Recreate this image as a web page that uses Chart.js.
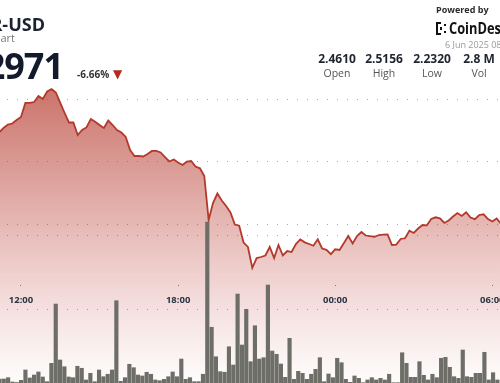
<!DOCTYPE html>
<html>
<head>
<meta charset="utf-8">
<script src="https://cdn.jsdelivr.net/npm/chart.js@4.4.1/dist/chart.umd.min.js"></script>
<style>
  html, body { margin:0; padding:0; background:#fff; width:500px; height:383px; overflow:hidden; }
  #wrap { position:relative; width:500px; height:383px; overflow:hidden; font-family:'Open Sans', sans-serif; }
  canvas { position:absolute; left:0; top:0; }
  .t { position:absolute; white-space:nowrap; }
  .stat { position:absolute; width:60px; text-align:center; white-space:nowrap; }
</style>
</head>
<body>
<div id="wrap">
  <canvas id="c" width="500" height="383"></canvas>
  <div class="t" id="pair" data-right="45" style="top:15px; font-size:18px; line-height:18px; font-weight:700; color:#1b2230;"></div>
  <div class="t" id="sub" data-right="15" style="top:32px; font-size:11px; line-height:11px; color:#777;"></div>
  <div class="t" id="last" data-right="63" style="top:48px; font-size:36px; line-height:36px; font-weight:700; color:#121a2b; letter-spacing:-1px;"></div>
  <div class="t" id="chg" style="left:77px; top:69px; font-size:10px; line-height:10px; font-weight:700; color:#333;"></div>
  <div class="t" id="arrow" style="left:113px; top:68px; font-size:12px; line-height:12px; color:#b22a1d; font-family:'DejaVu Sans';">▼</div>
  <div class="t" id="powered" style="left:436px; top:4.5px; font-size:9px; line-height:9px; font-weight:700; color:#2b2b2b;"></div>
  <svg class="t" style="left:436px; top:22px;" width="11" height="13" viewBox="0 0 11 13">
    <rect x="0" y="0" width="2" height="13" fill="#111"/>
    <rect x="0" y="0" width="5" height="2" fill="#111"/>
    <rect x="0" y="11" width="5" height="2" fill="#111"/>
    <rect x="4" y="5" width="2" height="3" fill="#111"/>
    <rect x="8" y="2" width="2" height="2" fill="#111"/>
    <rect x="8" y="9" width="2" height="2" fill="#111"/>
  </svg>
  <div class="t" id="logo" style="left:449px; top:19.5px; font-size:16px; line-height:16px; font-weight:700; color:#111; transform:scaleX(0.8); transform-origin:left top;"></div>
  <div class="t" id="date" style="left:445px; top:40px; font-size:9px; line-height:9px; color:#9a9a9a;"></div>
  <div id="stats"></div>
</div>
<script>
// ---- header text ----
const pairName = 'NEAR-USD';
const chartSubtitle = '1 Day Chart';
const lastPrice = '2.2971';
const changeText = '-6.66%';
const poweredText = 'Powered by';
const logoText = 'CoinDesk';
const dateText = '6 Jun 2025 08:10 UTC';
const statValues = ['2.4610', '2.5156', '2.2320', '2.8 M'];
const statLabels = ['Open', 'High', 'Low', 'Vol'];

// ---- time axis (minutes after 12:00, 10-minute steps) ----
const lineStartMinute = -50;
const stepMinutes = 10;
const timeTickMinutes = [0, 360, 720, 1080];
const timeTickLabels = ['12:00', '18:00', '00:00', '06:00'];

// ---- price series (USD) ----
const prices = [
  2.4468, 2.4540, 2.4595, 2.4611, 2.4667, 2.4714, 2.4937, 2.4937, 2.4952, 2.5048,
  2.5000, 2.5119, 2.5156, 2.5103, 2.4937, 2.4778, 2.4627, 2.4627, 2.4429, 2.4508,
  2.4548, 2.4683, 2.4640, 2.4587, 2.4540, 2.4659, 2.4587, 2.4508, 2.4468, 2.4397,
  2.4190, 2.4095, 2.4095, 2.4087, 2.4127, 2.4175, 2.4175, 2.4151, 2.4079, 2.4008,
  2.4040, 2.3992, 2.3952, 2.4005, 2.4016, 2.3929, 2.3900, 2.3778, 2.3079, 2.3349,
  2.3500, 2.3389, 2.3302, 2.3198, 2.3008, 2.2989, 2.2722, 2.2651, 2.2320, 2.2476,
  2.2492, 2.2516, 2.2651, 2.2476, 2.2683, 2.2516, 2.2587, 2.2571, 2.2698, 2.2770,
  2.2725, 2.2698, 2.2671, 2.2773, 2.2627, 2.2606, 2.2537, 2.2614, 2.2603, 2.2714,
  2.2825, 2.2706, 2.2825, 2.2889, 2.2833, 2.2822, 2.2814, 2.2841, 2.2848, 2.2852,
  2.2683, 2.2690, 2.2778, 2.2789, 2.2908, 2.2873, 2.2944, 2.3000, 2.2995, 2.3095,
  2.3122, 2.3106, 2.3032, 2.3071, 2.3135, 2.3190, 2.3143, 2.3202, 2.3119, 2.3092,
  2.3159, 2.3170, 2.3095, 2.3056, 2.3103, 2.3016, 2.2971
];

// ---- volume series (per bar) ----
const volumes = [
  5400, 5400, 7200, 1400, 700, 3600, 17600, 6800, 10800, 14900,
  8100, 1800, 26600, 106700, 31100, 22000, 8100, 7200, 22600, 19900,
  4100, 13100, 1800, 17600, 8500, 11800, 17600, 111200, 2300, 7200,
  25300, 20700, 10800, 9500, 14500, 11800, 4100, 3100, 5000, 8500,
  14900, 8500, 32400, 5000, 7200, 1800, 1800, 11800, 217500, 75300,
  35500, 15300, 14500, 49000, 24300, 120200, 51300, 99600, 28800, 77400,
  32400, 34200, 132400, 43200, 38800, 25700, 7700, 60400, 5000, 15800,
  13100, 5000, 11800, 18500, 34200, 1800, 12200, 7200, 33400, 27400,
  5000, 900, 9500, 6300, 400, 4100, 7200, 4100, 6300, 4100,
  11800, 400, 400, 40900, 26600, 7700, 7700, 28800, 10400, 4100,
  11800, 7200, 33400, 34700, 21200, 8500, 6300, 44600, 8500, 7700,
  13100, 13100, 41500, 4100, 13900, 4100
];

// ---- grid values ----
const priceGridValues = [2.3, 2.4, 2.5];
const volumeGridValues = [100000, 200000];

// header fill
document.getElementById('pair').textContent = pairName;
document.getElementById('sub').textContent = chartSubtitle;
document.getElementById('last').textContent = lastPrice;
document.getElementById('chg').textContent = changeText;
document.getElementById('powered').textContent = poweredText;
document.getElementById('logo').textContent = logoText;
document.getElementById('date').textContent = dateText;
function placeRightAligned() {
  document.querySelectorAll('[data-right]').forEach(el => {
    const r = parseFloat(el.dataset.right);
    el.style.left = (r - el.getBoundingClientRect().width) + 'px';
  });
}
placeRightAligned();
if (document.fonts && document.fonts.ready) document.fonts.ready.then(placeRightAligned);

const statCenters = [337, 384, 432, 479];
const statsEl = document.getElementById('stats');
statValues.forEach((v, i) => {
  const a = document.createElement('div');
  a.className = 'stat';
  a.style.cssText = `left:${statCenters[i]-30}px; top:53.3px; font-size:12px; line-height:12px; font-weight:700; color:#1e2430;`;
  a.textContent = v;
  const b = document.createElement('div');
  b.className = 'stat';
  b.style.cssText = `left:${statCenters[i]-30}px; top:67.7px; font-size:10.5px; line-height:10.5px; color:#555;`;
  b.textContent = statLabels[i];
  statsEl.appendChild(a); statsEl.appendChild(b);
});

// ---- chart ----
const pricePoints = prices.map((p, i) => ({ x: lineStartMinute + i * stepMinutes, y: p }));
const volumePoints = volumes.map((v, i) => ({ x: i, y: v }));

const priceMin = 2.049206, priceMax = 2.657143;
const axisPrice = 2.204762;

function fillGradient(context) {
  const { ctx, chartArea } = context.chart;
  if (!chartArea) return 'rgba(190,80,70,0.35)';
  const g = ctx.createLinearGradient(0, 85, 0, chartArea.bottom);
  g.addColorStop(0, 'rgba(184,66,54,0.75)');
  g.addColorStop(0.5, 'rgba(190,72,62,0.36)');
  g.addColorStop(1, 'rgba(210,110,110,0.02)');
  return g;
}

const dotGrid = { z: 1, color: 'rgba(105,105,105,0.6)', lineWidth: 1, drawTicks: false, borderDash: [1, 9], borderDashOffset: 3 };
const dotBorder = { display: false, dash: [1, 9], dashOffset: 3 };

new Chart(document.getElementById('c'), {
  data: {
    datasets: [
      {
        type: 'bar', data: volumePoints, xAxisID: 'xv', yAxisID: 'yv',
        backgroundColor: '#6d6e68', borderWidth: 0, barThickness: 3.5, order: 0
      },
      {
        type: 'line', data: pricePoints, xAxisID: 'x', yAxisID: 'y',
        borderColor: '#b3392b', borderWidth: 1.8, pointRadius: 0, tension: 0,
        fill: 'start', backgroundColor: fillGradient, order: 1
      }
    ]
  },
  options: {
    responsive: false, animation: false, devicePixelRatio: 1,
    layout: { padding: 0 },
    plugins: { legend: { display: false }, tooltip: { enabled: false } },
    scales: {
      x: {
        type: 'linear', min: -48.1, max: 1097.6, offset: false, position: { y: axisPrice },
        afterBuildTicks: s => { s.ticks = timeTickMinutes.map(v => ({ value: v })); },
        afterFit: s => { s.paddingLeft = 0; s.paddingRight = 0; },
        border: { display: false },
        grid: { drawOnChartArea: false, drawTicks: true, tickLength: 1, tickColor: '#777', tickWidth: 1 },
        ticks: {
          z: 1, padding: 9, maxRotation: 0, autoSkip: false, color: '#2b3442',
          font: { family: 'Open Sans', weight: 'bold', size: 9.5 },
          callback: v => timeTickLabels[timeTickMinutes.indexOf(v)]
        }
      },
      xv: { type: 'linear', display: false, offset: false, grid: { offset: false }, min: -0.277, max: 115.196 },
      y: {
        type: 'linear', position: 'left', min: priceMin, max: priceMax,
        afterBuildTicks: s => { s.ticks = priceGridValues.map(v => ({ value: v })); },
        border: dotBorder, grid: dotGrid, ticks: { display: false }
      },
      yv: {
        type: 'linear', position: 'left', min: 0, max: 517568,
        afterBuildTicks: s => { s.ticks = volumeGridValues.map(v => ({ value: v })); },
        border: dotBorder, grid: dotGrid, ticks: { display: false }
      }
    }
  }
});
</script>
</body>
</html>
